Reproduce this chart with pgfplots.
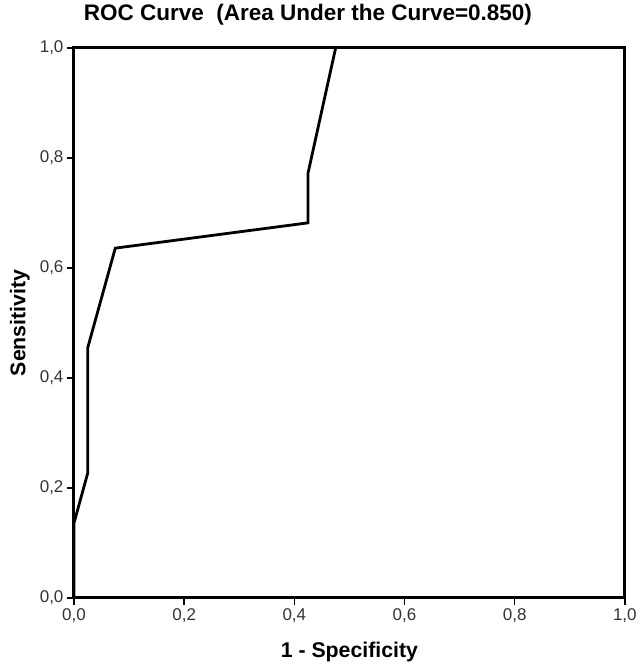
\documentclass[border=0pt]{standalone}
\usepackage{pgfplots}
\pgfplotsset{compat=1.18}
\usepackage{fontspec}
\setmainfont{Liberation Sans}

\begin{document}
\begin{tikzpicture}
\begin{axis}[
    width=551pt, height=550pt,
    scale only axis,
    xmin=0, xmax=1, ymin=0, ymax=1,
    xtick={0,0.2,...,1.0}, ytick={0,0.2,...,1.0},
    xtick pos=left, ytick pos=left,
    tick align=outside,
    major tick length=7pt,
    tick style={line width=1.5pt, black},
    axis line style={line width=3pt},
    /pgf/number format/.cd, use comma, fixed, fixed zerofill, precision=1, assume math mode=true,
    /pgfplots/.cd,
    ticklabel style={font=\fontsize{17}{20}\selectfont, text=black!80},
    xlabel={1 - Specificity},
    ylabel={Sensitivity},
    xlabel style={at={(axis description cs:0.5,-0.098)}, anchor=center, font=\bfseries\fontsize{21.3}{25}\selectfont},
    ylabel style={at={(axis description cs:-0.098,0.5)}, anchor=center, font=\bfseries\fontsize{21.3}{25}\selectfont},
    title={ROC Curve\ \ (Area Under the Curve=0.850)},
    title style={at={(axis description cs:0.4247,1.049)}, anchor=center, font=\bfseries\fontsize{22.5}{26}\selectfont},
    clip=false,
]
\addplot[line width=2.8pt, black, line join=miter] coordinates {
    (0,0) (0,0.136) (0.025,0.227) (0.025,0.455) (0.075,0.636)
    (0.425,0.682) (0.425,0.773) (0.475,1.0)
};
\end{axis}
\path (-74pt,-67pt) rectangle (559pt,598pt);
\end{tikzpicture}
\end{document}
